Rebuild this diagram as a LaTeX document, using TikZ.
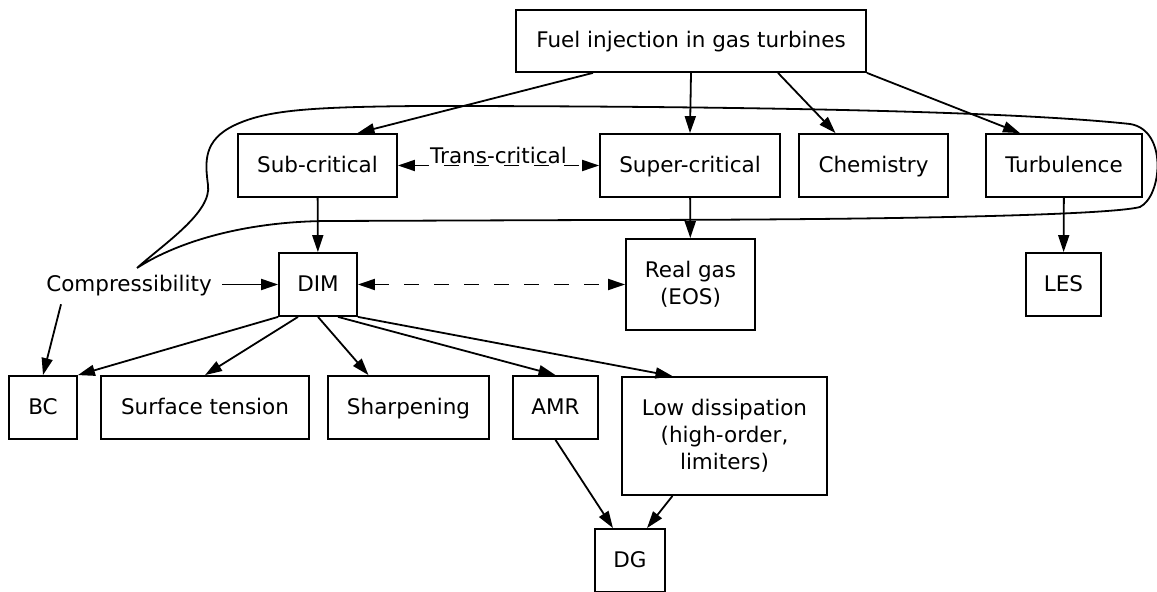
\documentclass[tikz,border=0pt]{standalone}
\usepackage{fontspec}
\setmainfont{DejaVu Sans}
\usetikzlibrary{arrows.meta}

\begin{document}
\begin{tikzpicture}[x=0.5pt,y=-0.5pt,
  every node/.style={font=\fontsize{10.75}{13.5}\selectfont},
  box/.style={draw,line width=0.9pt,inner sep=0pt,align=center,minimum height=31.5pt},
  line/.style={text height=8.2pt,text depth=1.2pt},
  >={Triangle[length=8.5pt,width=5.5pt]}]
\useasboundingbox (0,0) rectangle (1157,592);
\node[box,line,minimum width=175pt,minimum height=31pt] (fuel) at (691,41) {Fuel injection in gas turbines};
\node[box,line,minimum width=79.5pt] (sub) at (317.5,165.5) {Sub-critical};
\node[box,line,minimum width=90pt] (super) at (690,165.5) {Super-critical};
\node[box,line,minimum width=74.5pt] (chem) at (873.5,165.5) {Chemistry};
\node[box,line,minimum width=78pt] (turb) at (1064,165.5) {Turbulence};
\node[box,line,minimum width=39pt] (dim) at (318,284.5) {DIM};
\node[box,minimum width=64.5pt,minimum height=45.5pt] (eos) at (690.5,284.5) {Real gas\\(EOS)};
\node[box,line,minimum width=37.5pt] (les) at (1063.5,284.5) {LES};
\node[line,inner sep=5pt] (comp) at (129,284.5) {Compressibility};
\node[box,line,minimum width=34pt] (bc) at (43,407.5) {BC};
\node[box,line,minimum width=104pt] (surf) at (205,407.5) {Surface tension};
\node[box,line,minimum width=80.5pt] (sharp) at (408.5,407.5) {Sharpening};
\node[box,line,minimum width=42.5pt] (amr) at (555.5,407.5) {AMR};
\node[box,minimum width=102.5pt,minimum height=59pt] (low) at (724.5,436) {Low dissipation\\(high-order,\\limiters)};
\node[box,line,minimum width=35pt] (dg) at (630,560.5) {DG};
\coordinate (tip) at (137,268);
% loop around the regimes
\draw[line width=0.9pt] (tip) .. controls (165,243) and (212,212) .. (208,185)
  .. controls (205,162) and (203,140) .. (235,125)
  .. controls (267,110) and (310,107) .. (420,106)
  .. controls (700,106) and (1000,110) .. (1130,124)
  .. controls (1168,130) and (1162,196) .. (1140,207)
  .. controls (1110,215) and (900,220) .. (600,220)
  -- (330,221) .. controls (250,221) and (180,240) .. (tip);
\draw[->,line width=0.9pt] ([xshift=-49pt]fuel.south) -- ([xshift=20pt]sub.north);
\draw[->,line width=0.9pt] (fuel.south) -- (super.north);
\draw[->,line width=0.9pt] ([xshift=43.5pt]fuel.south) -- ([xshift=-19pt]chem.north);
\draw[->,line width=0.9pt] (fuel.south east) -- ([xshift=-22pt]turb.north);
\draw[<->,line width=0.9pt,dash pattern=on 7.5pt off 7.5pt] (sub) -- node[anchor=base,yshift=1pt,inner sep=0pt] {Trans-critical} (super);
\draw[->,line width=0.9pt] (sub) -- (dim);
\draw[->,line width=0.9pt] (super) -- (eos);
\draw[->,line width=0.9pt] (turb) -- (les);
\draw[<->,line width=0.9pt,dash pattern=on 7.5pt off 7.5pt] (dim) -- (eos);
\draw[->,line width=0.9pt] (comp) -- (dim);
\draw[->,line width=0.9pt] ([xshift=-34pt]comp.south) -- (bc.north);
\draw[->,line width=0.9pt] (dim.south west) -- (bc.north east);
\draw[->,line width=0.9pt] ([xshift=-10pt]dim.south) -- (surf.north);
\draw[->,line width=0.9pt] (dim.south) -- ([xshift=-20pt]sharp.north);
\draw[->,line width=0.9pt] ([xshift=10pt]dim.south) -- (amr.north);
\draw[->,line width=0.9pt] (dim.south east) -- ([xshift=-26pt]low.north);
\draw[->,line width=0.9pt] (amr.south) -- ([xshift=-8.5pt]dg.north);
\draw[->,line width=0.9pt] ([xshift=-26pt]low.south) -- ([xshift=8.5pt]dg.north);
\end{tikzpicture}
\end{document}
